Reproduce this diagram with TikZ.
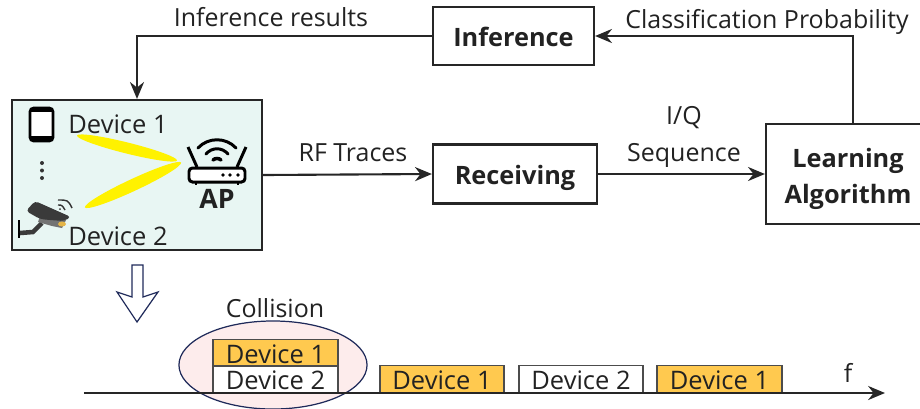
\documentclass[tikz,border=0pt]{standalone}
\usepackage{fontspec}
\setmainfont{Open Sans}
\usetikzlibrary{arrows.meta,shapes.geometric}
\definecolor{panelgreen}{HTML}{E8F6F3}
\definecolor{slotorange}{HTML}{FFC94F}
\definecolor{pinkfill}{HTML}{FDECEC}
\definecolor{navyline}{HTML}{1F2A5A}
\definecolor{inktext}{HTML}{222222}
\definecolor{camdark}{HTML}{3A3A3A}
\tikzset{
  labeltext/.style={font=\fontsize{7.1}{9.6}\selectfont, text=inktext, inner sep=0pt, align=center},
  blockbox/.style={draw=black!85, line width=0.6pt, fill=white, font=\fontsize{7.2}{10.2}\selectfont\bfseries, text=inktext, inner sep=0pt, align=center},
  oneline/.style={text height=7.4pt, text depth=1.2pt},
  slotbox/.style={draw=black!70, line width=0.55pt, labeltext, font=\fontsize{7.25}{9.6}\selectfont, minimum width=1.24cm, minimum height=0.27cm, text height=5.8pt, text depth=0pt},
  beam/.style={ellipse, fill=yellow, inner sep=0pt},
  flow/.style={line width=0.6pt, black!85, -{Stealth[length=4.8pt,width=4pt]}},
}
\begin{document}
\begin{tikzpicture}[x=0.01cm,y=-0.01cm]
        \useasboundingbox (0,0) rectangle (920,408);
        % upper row
        \node[blockbox, oneline, minimum width=1.61cm, minimum height=0.58cm] (inference) at (513.5,36) {Inference};
        \node[blockbox, oneline, minimum width=1.64cm, minimum height=0.59cm] (receiving) at (515,174) {Receiving};
        \node[blockbox, minimum width=1.64cm, minimum height=1.00cm] (learning) at (848,174) {};
        \node[blockbox, draw=none, fill=none] (learningtext) at (848,179) {Learning\\Algorithm};
        \node[draw=black!85, line width=0.6pt, fill=panelgreen, minimum width=2.50cm, minimum height=1.50cm] (panel) at (137,175) {};
        \coordinate (learningtop) at (853,124);
        % connectors
        \draw[flow] (learningtop) |- (inference.east);
        \draw[flow] (inference.west) -| (panel.north);
        \draw[flow] (panel.east) -- (receiving.west);
        \draw[flow] (receiving.east) -- (learning.west);
        % labels
        \node[labeltext] (inflabel) at (271,17) {Inference results};
        \node[labeltext] (problabel) at (767,22) {Classification Probability};
        \node[labeltext] (rflabel) at (353,153) {RF Traces};
        \node[labeltext] (iqlabel) at (684,118) {I/Q};
        \node[labeltext] (seqlabel) at (684,155) {Sequence};
        % inside the panel
        \node[beam, rotate=-14, minimum width=1.03cm, minimum height=0.11cm] (beamone) at (127,148) {};
        \node[beam, rotate=25, minimum width=1.06cm, minimum height=0.12cm] (beamtwo) at (133,185) {};
        \node[labeltext, font=\fontsize{7.25}{9}\selectfont] (devone) at (118,124) {Device 1};
        \node[labeltext, font=\fontsize{7.25}{9}\selectfont] (devtwo) at (118,236) {Device 2};
        \node[labeltext, font=\fontsize{7.6}{9}\selectfont\bfseries] (aplabel) at (217,199) {AP};
        % phone
        \draw[black, fill=white, line width=0.75pt, rounded corners=1pt] (30,108) rectangle (53,141);
        \draw[black, line width=0.9pt] (31,110) -- (52,110);
        \draw[black, line width=1.3pt] (31,138) -- (52,138);
        % dots
        \fill[black!80] (42,163) circle [radius=2];
        \fill[black!80] (42,170.5) circle [radius=2];
        \fill[black!80] (42,178) circle [radius=2];
        % router
        \draw[black, line width=0.85pt, rounded corners=1pt, fill=white] (189,168) rectangle (245,182);
        \draw[black, line width=0.85pt] (188,147) -- (197,167);
        \draw[black, line width=0.85pt] (246,147) -- (237,167);
        \draw[black, line width=0.85pt] (196,182) -- (196,185);
        \draw[black, line width=0.85pt] (238,182) -- (238,185);
        \draw[black, line width=0.85pt, line cap=round] (198,148) .. controls (208,137) and (226,137) .. (236,148);
        \draw[black, line width=0.85pt, line cap=round] (206,154) .. controls (212,147) and (222,147) .. (228,154);
        \draw[black, line width=1pt, line cap=round] (213,160) .. controls (215,158) and (219,158) .. (221,160);
        \fill[black] (223,175) circle [radius=1.8];
        \fill[black] (230,175) circle [radius=1.8];
        \fill[black] (238,175) circle [radius=1.8];
        % camera
        \draw[black, line width=0.7pt] (19,220) -- (19,238);
        \draw[camdark, line width=1.3pt] (20,233) -- (33,232) -- (42,223);
        \fill[black!55] (40,216) -- (66,220) -- (62,228) -- (52,226) -- (38,222) -- cycle;
        \fill[camdark, rounded corners=1pt] (26,211) -- (35,201) -- (71,217) -- (64,221) -- (50,220) -- (40,219) -- cycle;
        \fill[slotorange!90!black] (62,224) ellipse [x radius=4, y radius=2.5];
        \draw[black!80, line width=0.4pt] (58,205) .. controls (62,205) .. (65,210);
        \draw[black!80, line width=0.4pt] (58,200) .. controls (68,200) .. (72,208);
        \fill[black!80] (60,209) circle [radius=1];
        % transition arrow
        \draw[navyline, line width=0.35pt, fill=white] (132,265) -- (143,265) -- (143,297) -- (158,292) -- (137,322) -- (117,292) -- (132,297) -- cycle;
        % spectrum
        \node[labeltext] (collabel) at (275,308) {Collision};
        \node[ellipse, draw=navyline, line width=0.35pt, fill=pinkfill, minimum width=1.88cm, minimum height=0.88cm, inner sep=0pt] (colring) at (273,365) {};
        \node[slotbox, fill=slotorange] (slotone) at (275.5,353) {Device 1};
        \node[slotbox, fill=white] (slottwo) at (275.5,379.5) {Device 2};
        \node[slotbox, fill=slotorange] (slotthree) at (442,379) {Device 1};
        \node[slotbox, fill=white] (slotfour) at (581,379) {Device 2};
        \node[slotbox, fill=slotorange] (slotfive) at (719.5,379) {Device 1};
        \node[labeltext] (flabel) at (848,373) {f};
        \coordinate (axisstart) at (84,393);
        \coordinate (axisend) at (885,393);
        \draw[flow] (axisstart) -- (axisend);
    \end{tikzpicture}
\end{document}
